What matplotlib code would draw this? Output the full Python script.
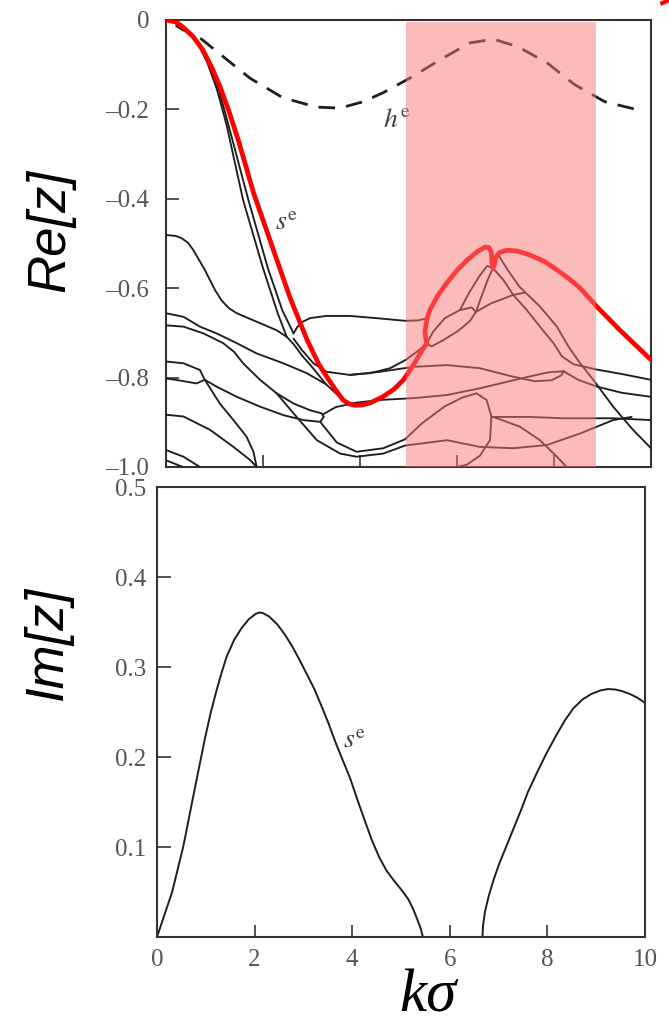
import matplotlib
matplotlib.use('Agg')
import matplotlib.pyplot as plt
from matplotlib.lines import Line2D

# ---- data (k sigma, Re z / Im z) ----
re_ticks = [0, -0.2, -0.4, -0.6, -0.8, -1.0]
re_tick_labels = ['0', '–0.2', '–0.4', '–0.6', '–0.8', '–1.0']
im_ticks = [0.1, 0.2, 0.3, 0.4, 0.5]
im_tick_labels = ['0.1', '0.2', '0.3', '0.4', '0.5']
k_ticks = [0, 2, 4, 6, 8, 10]
k_tick_labels = ['0', '2', '4', '6', '8', '10']

band = (4.95, 8.87)   # highlighted k range

red_branch = [(0, 0), (0.2, -0.004), (0.35, -0.016), (0.55, -0.036), (0.76, -0.067),
              (0.95, -0.108), (1.11, -0.148), (1.3, -0.205), (1.5, -0.272), (1.8, -0.385),
              (2.2, -0.51), (2.56, -0.622), (2.91, -0.716), (3.15, -0.77), (3.32, -0.799),
              (3.5, -0.828), (3.65, -0.85), (3.78, -0.859), (3.9, -0.862), (4.05, -0.861),
              (4.2, -0.857), (4.47, -0.843), (4.7, -0.826), (4.89, -0.806), (5.1, -0.772),
              (5.3, -0.735), (5.38, -0.723), (5.35, -0.71), (5.34, -0.695), (5.38, -0.67),
              (5.44, -0.649), (5.6, -0.617), (5.79, -0.588), (6.0, -0.56), (6.21, -0.537),
              (6.42, -0.518), (6.58, -0.508), (6.66, -0.509), (6.71, -0.52), (6.72, -0.54),
              (6.74, -0.555), (6.77, -0.548), (6.8, -0.53), (6.88, -0.52), (7.03, -0.515),
              (7.25, -0.517), (7.51, -0.526), (7.8, -0.54), (8.06, -0.559), (8.3, -0.578),
              (8.54, -0.60), (8.89, -0.642), (9.36, -0.694), (9.94, -0.754), (10.0, -0.76)]

h_branch = [(0.2, -0.012), (0.35, -0.022), (0.7, -0.040), (1.26, -0.089), (1.73, -0.130),
            (2.41, -0.174), (3.11, -0.195), (3.59, -0.197), (4.06, -0.183), (4.47, -0.163),
            (5.03, -0.130), (5.65, -0.089), (6.27, -0.051), (6.76, -0.043), (7.26, -0.060),
            (7.86, -0.096), (8.43, -0.145), (9.05, -0.183), (9.73, -0.201), (9.85, -0.203)]

s_outer = [(0, 0), (0.3, -0.008), (0.6, -0.04), (0.85, -0.095), (1.05, -0.155), (1.25, -0.235),
           (1.59, -0.403), (2.0, -0.555), (2.3, -0.655), (2.49, -0.709)]
s_inner = [(0, 0), (0.35, -0.014), (0.65, -0.048), (0.9, -0.1), (1.1, -0.16), (1.3, -0.24),
           (1.7, -0.403), (2.1, -0.555), (2.4, -0.65), (2.63, -0.701)]
left_048 = [(0, -0.481), (0.2, -0.483), (0.32, -0.488), (0.45, -0.498), (0.56, -0.514),
            (0.8, -0.559), (1.01, -0.604), (1.15, -0.628), (1.3, -0.645), (1.46, -0.656),
            (1.87, -0.675), (2.28, -0.694), (2.49, -0.709)]
to_min = [(2.49, -0.709), (2.63, -0.725), (2.8, -0.75), (3.04, -0.78), (3.3, -0.815),
          (3.55, -0.84), (3.75, -0.855), (3.9, -0.862)]
upper_067 = [(2.63, -0.701), (2.7, -0.688), (2.8, -0.676), (2.97, -0.667), (3.31, -0.662),
             (3.79, -0.662), (4.34, -0.667), (4.93, -0.673), (5.2, -0.672), (5.36, -0.668)]
lower_079 = [(2.63, -0.713), (2.8, -0.738), (3.04, -0.768), (3.31, -0.787), (3.79, -0.794),
             (4.21, -0.79), (4.62, -0.779), (4.95, -0.76), (5.2, -0.74), (5.37, -0.725)]
oval = [(5.37, -0.725), (5.51, -0.697), (5.75, -0.667), (6.06, -0.649), (6.3, -0.643),
        (6.39, -0.653), (6.27, -0.673), (6.03, -0.695), (5.72, -0.716), (5.48, -0.730),
        (5.37, -0.725)]
oval_up1 = [(6.06, -0.649), (6.25, -0.61), (6.45, -0.575), (6.62, -0.55), (6.74, -0.555)]
oval_up2 = [(6.39, -0.653), (6.5, -0.62), (6.62, -0.585), (6.74, -0.555)]
oval_right = [(6.39, -0.653), (6.7, -0.634), (7.16, -0.615), (7.4, -0.61)]
down_a = [(6.74, -0.555), (6.96, -0.582), (7.16, -0.615), (7.44, -0.649), (7.71, -0.686),
          (7.99, -0.723), (8.16, -0.752), (8.4, -0.77), (8.88, -0.782), (9.4, -0.792),
          (10.0, -0.805)]
down_b = [(6.85, -0.525), (7.05, -0.56), (7.29, -0.597), (7.71, -0.641), (8.06, -0.686),
          (8.3, -0.731), (8.54, -0.768), (8.81, -0.805), (9.22, -0.865), (9.63, -0.917),
          (10.0, -0.958)]
mid_080 = [(3.79, -0.794), (4.41, -0.787), (5.1, -0.776), (5.79, -0.772), (6.47, -0.779),
           (7.16, -0.798), (7.6, -0.808), (7.95, -0.806), (8.15, -0.795), (8.2, -0.786)]
mid_085 = [(3.24, -0.882), (3.5, -0.866), (3.93, -0.856), (4.41, -0.85), (5.1, -0.846),
           (5.79, -0.839), (6.47, -0.824), (7.16, -0.806), (7.6, -0.795), (7.9, -0.788),
           (8.2, -0.786)]
right_084 = [(8.2, -0.786), (8.5, -0.805), (8.88, -0.82), (9.4, -0.834), (10.0, -0.843)]
left_066 = [(0, -0.656), (0.36, -0.664), (0.7, -0.686), (1.04, -0.701), (1.46, -0.723),
            (1.87, -0.746), (2.42, -0.768), (2.9, -0.79), (3.3, -0.815)]
left_068 = [(0, -0.683), (0.36, -0.686), (0.77, -0.701), (1.18, -0.723), (1.4, -0.742),
            (1.59, -0.768), (1.94, -0.805), (2.28, -0.835), (2.63, -0.858), (2.97, -0.873),
            (3.21, -0.88), (3.25, -0.888)]
left_loop = [(0, -0.764), (0.36, -0.768), (0.7, -0.783), (0.8, -0.805), (0.63, -0.813),
             (0.2, -0.805), (0, -0.802)]
loop_to_hairpin = [(0.8, -0.805), (1.04, -0.82), (1.46, -0.843), (1.94, -0.865),
                   (2.42, -0.884), (2.83, -0.895), (3.18, -0.899), (3.25, -0.888)]
loop_down = [(0.8, -0.805), (1.11, -0.858), (1.39, -0.895), (1.66, -0.932), (1.8, -0.965),
             (1.87, -1.0)]
left_088 = [(0, -0.883), (0.36, -0.887), (0.91, -0.917), (1.39, -0.955), (1.73, -0.984),
            (1.87, -1.0)]
left_096 = [(0, -0.962), (0.36, -0.977), (0.7, -1.0)]
left_098 = [(0, -0.985), (0.35, -1.0)]
bowl = [(2.28, -0.835), (2.63, -0.88), (3.11, -0.94), (3.59, -0.97), (3.93, -0.977),
        (4.48, -0.97), (4.93, -0.952), (5.44, -0.945), (5.79, -0.94), (6.47, -0.955),
        (7.16, -0.958), (7.85, -0.951), (8.54, -0.925), (9.22, -0.895), (9.6, -0.888)]
arch = [(3.18, -0.899), (3.52, -0.945), (3.93, -0.966), (4.48, -0.958), (4.93, -0.938),
        (5.28, -0.902), (5.74, -0.865), (6.1, -0.845), (6.4, -0.835), (6.61, -0.85),
        (6.71, -0.887), (6.68, -0.94), (6.47, -0.975), (6.2, -0.995), (6.0, -1.0)]
right_089 = [(6.71, -0.888), (7.5, -0.888), (8.19, -0.891), (9.22, -0.891), (10.0, -0.895)]
to_axis_827 = [(6.75, -0.888), (7.3, -0.91), (7.71, -0.94), (8.06, -0.977), (8.26, -1.0)]

black_branches = [s_outer, s_inner, left_048, to_min, upper_067, lower_079, oval, oval_up1,
                  oval_up2, oval_right, down_a, down_b, mid_080, mid_085, right_084,
                  left_066, left_068, left_loop, loop_to_hairpin, loop_down, left_088,
                  left_096, left_098, bowl, arch, right_089, to_axis_827]

im_left = [(0, 0), (0.31, 0.05), (0.54, 0.101), (0.76, 0.161), (0.98, 0.22), (1.1, 0.249),
           (1.21, 0.272), (1.32, 0.293), (1.43, 0.312), (1.58, 0.33), (1.73, 0.343),
           (1.88, 0.353), (2.02, 0.359), (2.1, 0.3605), (2.17, 0.36), (2.3, 0.356),
           (2.47, 0.347), (2.62, 0.336), (2.77, 0.323), (2.92, 0.308), (3.07, 0.292),
           (3.22, 0.276), (3.36, 0.258), (3.51, 0.238), (3.66, 0.216), (3.81, 0.196),
           (3.96, 0.176), (4.11, 0.152), (4.26, 0.129), (4.4, 0.108), (4.55, 0.089),
           (4.7, 0.074), (4.85, 0.063), (5.0, 0.053), (5.15, 0.042), (5.25, 0.031),
           (5.33, 0.02), (5.4, 0.01), (5.45, 0)]
im_right = [(6.67, 0), (6.68, 0.012), (6.72, 0.028), (6.8, 0.046), (6.9, 0.064),
            (7.01, 0.081), (7.16, 0.101), (7.31, 0.121), (7.46, 0.141), (7.6, 0.161),
            (7.79, 0.183), (7.98, 0.204), (8.17, 0.223), (8.35, 0.24), (8.53, 0.254),
            (8.72, 0.264), (8.9, 0.27), (9.09, 0.274), (9.24, 0.2755), (9.39, 0.275),
            (9.54, 0.273), (9.69, 0.27), (9.84, 0.266), (9.95, 0.262), (10.0, 0.26)]


def draw(ax, pts, **kw):
    xs = [p[0] for p in pts]
    ys = [p[1] for p in pts]
    return ax.plot(xs, ys, solid_joinstyle='round', solid_capstyle='round', **kw)


plt.rcParams['mathtext.fontset'] = 'stix'
serif = 'Liberation Serif'
ink = '#1e1e1e'

fig = plt.figure(figsize=(6.69, 10.28), dpi=100)
ax1 = fig.add_axes([166 / 669, 1 - 467 / 1028, 485 / 669, 447 / 1028])
ax2 = fig.add_axes([157 / 669, 1 - 937 / 1028, 488 / 669, 450 / 1028])

# ---- top panel: Re[z] ----
for br in black_branches:
    draw(ax1, br, color=ink, lw=1.35, zorder=3)
hl, = draw(ax1, h_branch, color=ink, lw=2.0, zorder=3)
hl.set_dashes((6, 4))
hl.set_solid_capstyle('butt')
draw(ax1, red_branch, color='#ff0000', lw=3.4, zorder=5)
ax1.axvspan(band[0], band[1], ymin=0, ymax=0.995, color=(249 / 255, 120 / 255, 120 / 255),
            alpha=0.5, lw=0, zorder=10)

ax1.text(2.25, -0.47, r'$s^{\mathrm{e}}$', fontsize=20, color='#444', zorder=6)
ax1.text(4.47, -0.239, r'$h^{\mathrm{e}}$', fontsize=20, color='#444', zorder=6)

ax1.set_xlim(0, 10)
ax1.set_ylim(-1.0, 0)
ax1.set_xticks([2, 4, 6, 8])
ax1.set_xticklabels([])
ax1.set_yticks(re_ticks)
ax1.set_yticklabels(re_tick_labels, fontfamily=serif, fontsize=18, color='#555')
ax1.tick_params(axis='y', direction='in', length=9, width=1.2, color='#333', pad=12)
ax1.tick_params(axis='x', direction='in', length=9, width=1.2, color='#333')

# ---- bottom panel: Im[z] ----
draw(ax2, im_left, color=ink, lw=1.4)
draw(ax2, im_right, color=ink, lw=1.4)
ax2.text(3.82, 0.21, r'$s^{\mathrm{e}}$', fontsize=20, color='#444')

ax2.set_xlim(0, 10)
ax2.set_ylim(0, 0.5)
ax2.set_xticks(k_ticks)
ax2.set_xticklabels(k_tick_labels, fontfamily=serif, fontsize=18, color='#555')
ax2.set_yticks(im_ticks)
ax2.set_yticklabels(im_tick_labels, fontfamily=serif, fontsize=18, color='#555')
ax2.tick_params(axis='y', direction='in', length=10, width=1.2, color='#333', pad=8)
ax2.tick_params(axis='x', direction='in', length=9, width=1.2, color='#333', pad=9)

for ax in (ax1, ax2):
    for sp in ax.spines.values():
        sp.set_color('#333')
        sp.set_linewidth(1.5)

fig.text(50 / 669, 1 - 230 / 1028, 'Re[z]', rotation=90, ha='center', va='center',
         fontfamily='Liberation Sans', style='italic', fontsize=38)
fig.text(48 / 669, 1 - 643 / 1028, 'Im[z]', rotation=90, ha='center', va='center',
         fontfamily='Liberation Sans', style='italic', fontsize=38)
fig.text(428 / 669, 1 - 1012 / 1028, 'kσ', ha='center', va='baseline',
         fontfamily=serif, style='italic', fontsize=44)

# small red stroke clipped at the top right corner
fig.add_artist(Line2D([0.99, 1.0], [0.997, 1.0], color='#ff0000', lw=3,
                      transform=fig.transFigure))

fig.savefig('out.png', dpi=100)
